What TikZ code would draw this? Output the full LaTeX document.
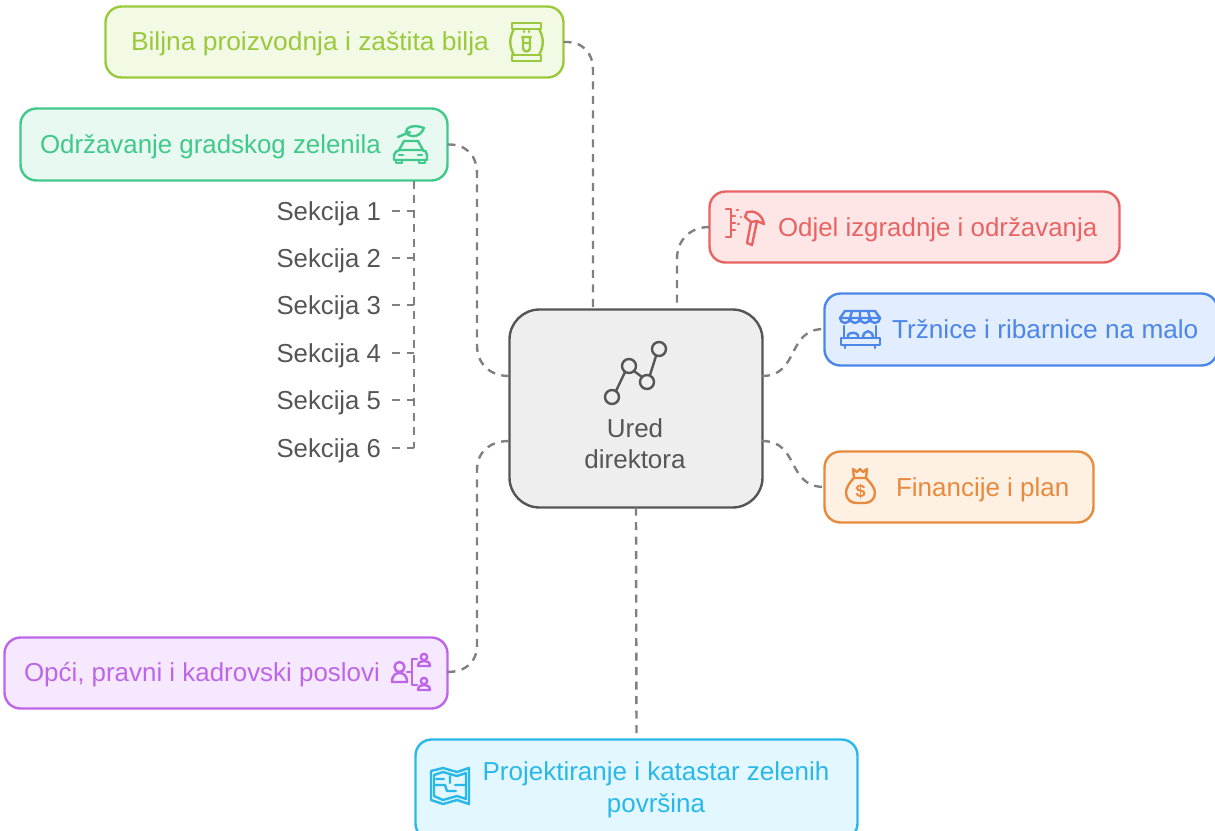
\documentclass[tikz,border=0pt]{standalone}
\usepackage{fontspec}
\setmainfont{Liberation Sans}
\definecolor{ink}{HTML}{555555}
\definecolor{dashc}{HTML}{808080}
\definecolor{limeS}{HTML}{9ACA3C}\definecolor{limeF}{HTML}{F2FAE6}
\definecolor{grnS}{HTML}{40C98A}\definecolor{grnF}{HTML}{E8F9F2}
\definecolor{redS}{HTML}{E86464}\definecolor{redF}{HTML}{FFE6E6}
\definecolor{bluS}{HTML}{4C86E8}\definecolor{bluF}{HTML}{E2EDFF}
\definecolor{oraS}{HTML}{E88A3C}\definecolor{oraF}{HTML}{FFF0E4}
\definecolor{purS}{HTML}{BD66E8}\definecolor{purF}{HTML}{F6E8FF}
\definecolor{cyaS}{HTML}{2AB8E8}\definecolor{cyaF}{HTML}{E2F7FF}
\tikzset{
 x=1pt,y=-1pt,
 boxn/.style={draw,line width=2.4pt,rounded corners=16pt,inner sep=0pt,outer sep=0pt,anchor=north west},
 lbl/.style={font=\fontsize{26}{30}\selectfont,anchor=base west,inner sep=0pt,outer sep=0pt},
 link/.style={draw=dashc,line width=2.4pt,dash pattern=on 8pt off 6.5pt},
 ico/.style={line width=2.4pt,line cap=round,line join=round},
}
\begin{document}
\begin{tikzpicture}
\useasboundingbox (0,0) rectangle (1215,830);
\clip (0,0) rectangle (1215,830);
% boxes
\node[boxn,draw=limeS,fill=limeF,minimum width=458pt,minimum height=71pt] (a) at (105.5,6.5) {};
\node[boxn,draw=grnS,fill=grnF,minimum width=427pt,minimum height=72pt] (b) at (20.5,108.5) {};
\node[boxn,draw=redS,fill=redF,minimum width=410pt,minimum height=71pt] (r) at (709.5,191.5) {};
\node[boxn,draw=bluS,fill=bluF,minimum width=393pt,minimum height=72pt] (m) at (824.5,293.5) {};
\node[boxn,draw=oraS,fill=oraF,minimum width=269pt,minimum height=71pt] (f) at (824.5,451.5) {};
\node[boxn,draw=purS,fill=purF,minimum width=443pt,minimum height=71pt] (p) at (4.5,637.5) {};
\node[boxn,draw=cyaS,fill=cyaF,minimum width=442pt,minimum height=100pt] (k) at (415.5,739.5) {};
\node[boxn,draw=ink,fill=black!6.5,rounded corners=30pt,minimum width=253pt,minimum height=198pt] (c) at (509.5,309.5) {};
% labels
\node[lbl,text=limeS] (ta) at (131,50) {\scalebox{1.015}[1]{Biljna proizvodnja i zaštita bilja}};
\node[lbl,text=grnS] (tb) at (40,153) {\scalebox{0.995}[1]{Održavanje gradskog zelenila}};
\node[lbl,text=redS] (tr) at (778,236) {\scalebox{0.995}[1]{Odjel izgradnje i održavanja}};
\node[lbl,text=bluS] (tm) at (892,338) {\scalebox{1.008}[1]{Tržnice i ribarnice na malo}};
\node[lbl,text=oraS] (tf) at (896,496) {Financije i plan};
\node[lbl,text=purS] (tp) at (24,681) {\scalebox{0.997}[1]{Opći, pravni i kadrovski poslovi}};
\node[lbl,text=cyaS,anchor=base,align=center] (tk1) at (656,780) {Projektiranje i katastar zelenih};
\node[lbl,text=cyaS,anchor=base,align=center] (tk2) at (656,812) {površina};
\node[lbl,text=ink,anchor=base] (tc1) at (635,437) {Ured};
\node[lbl,text=ink,anchor=base] (tc2) at (635,468) {direktora};
% sections
\foreach \n/\y in {1/220,2/267,3/314,4/362,5/409,6/457}
  \node[lbl,text=ink,anchor=base east] (s\n) at (381,\y) {\scalebox{0.99}[1]{Sekcija \n}};
% connectors
\coordinate (tr6) at (414,448);
\draw[link] (a.east) .. controls (582,41) and (593,52) .. (593,70) -- (593,309);
\draw[link] (b.east) .. controls (466,144) and (477,155) .. (477,174) -- (477,345) .. controls (477,364) and (490,376) .. (509,376);
\draw[link] (r.west) .. controls (690,227) and (677,240) .. (677,259) -- (677,309);
\draw[link] (762,376) .. controls (800,376) and (786,329) .. (824,329);
\draw[link] (762,441) .. controls (800,441) and (786,487) .. (f.west);
\draw[link] (509,441) .. controls (490,441) and (477,452) .. (477,470) -- (477,645) .. controls (477,662) and (466,672) .. (447,672);
\draw[link] (c.south) -- (k.north);
\draw[link] (b.south -| tr6) -- (tr6);
\foreach \n/\y in {1/211,2/258,3/305,4/353,5/400,6/448}
  \draw[link] (392,\y) -- (414,\y);
% centre icon
\begin{scope}[ico,draw=ink]
\draw (612,397) circle (7) (629,366) circle (7) (647,382) circle (7) (659,349) circle (7);
\draw (616,391) -- (625,372) (634,371) -- (642,377) (650,375) -- (656,356);
\end{scope}
% bag icon
\begin{scope}[ico,draw=limeS]
\draw (512,23) rectangle (541,29) (512,55) rectangle (541,61);
\draw (514,29) .. controls (509,38) and (509,46) .. (514,55) (539,29) .. controls (544,38) and (544,46) .. (539,55);
\draw (522,37) -- (531,37) (523,37) -- (523,48) arc[start angle=180,delta angle=-180,radius=3.5] -- (530,37) (524,43) -- (529,43) (524,31) -- (524,32) (529,31) -- (529,32);
\end{scope}
% car icon
\begin{scope}[ico,draw=grnS]
\draw (398,137) -- (410,132) (406,133) .. controls (405,127) and (414,124) .. (424,128) .. controls (421,136) and (412,139) .. (406,133);
\draw (399,150) -- (404,141) -- (418,141) -- (423,150);
\draw (394,160) -- (394,155) .. controls (395,152) and (397,150) .. (400,150) -- (422,150) .. controls (425,150) and (427,152) .. (427,155) -- (427,160) -- cycle;
\draw (396,160) -- (396,163) -- (402,163) -- (402,160) (419,160) -- (419,163) -- (425,163) -- (425,160);
\draw (399,155) -- (403,155) (418,155) -- (422,155);
\end{scope}
% hammer icon
\begin{scope}[ico,draw=redS]
\draw (726,209) -- (731,209) -- (731,237) -- (726,237);
\draw (731,216) -- (735,216) (731,223) -- (735,223) (731,230) -- (735,230) (737,210) -- (738,210) (738,224) -- (739,224) (741,217) -- (741,217);
\draw (747,212) .. controls (754,210) and (762,214) .. (764,224) -- (757,221) -- (751,222) -- (745,217) -- cycle;
\draw (751,222) -- (747,243) -- (752,245) -- (757,221);
\end{scope}
% market icon
\begin{scope}[ico,draw=bluS]
\draw (845,311) -- (875,311) -- (880,318) -- (840,318) -- cycle;
\draw (840,318) arc[start angle=180,delta angle=-180,radius=5] arc[start angle=180,delta angle=-180,radius=5] arc[start angle=180,delta angle=-180,radius=5] arc[start angle=180,delta angle=-180,radius=5];
\draw (852,311) -- (850,318) (860,311) -- (860,318) (868,311) -- (870,318);
\draw (844,326) -- (844,338) (876,326) -- (876,338);
\draw (841,338) rectangle (880,345);
\draw (845,345) -- (845,348) (875,345) -- (875,348);
\draw (848,338) -- (848,335) .. controls (850,332) and (856,332) .. (858,335) -- (858,338) (863,338) .. controls (863,329) and (873,329) .. (873,338);
\end{scope}
% money icon
\begin{scope}[ico,draw=oraS]
\draw (853,469) -- (857,472) -- (860,469) -- (863,472) -- (867,469) -- (866,478) -- (854,478) -- cycle;
\draw (854,478) .. controls (848,484) and (846,489) .. (846,493) .. controls (846,499) and (851,503) .. (856,503) -- (865,503) .. controls (870,503) and (875,499) .. (875,493) .. controls (875,489) and (872,484) .. (866,478);
\node[inner sep=0pt,text=oraS,font=\bfseries\fontsize{18}{18}\selectfont] (dollar) at (860.5,491) {\$};
\end{scope}
% people icon
\begin{scope}[ico,draw=purS]
\draw (399.5,667) circle (5);
\draw (392,682) .. controls (392,675) and (396,673) .. (399.5,673) .. controls (403,673) and (407,675) .. (407,682) -- cycle;
\draw (407,672) -- (412,672) (417,659) -- (412,659) -- (412,685) -- (417,685);
\draw (424,657) circle (3.2);
\draw (418,666) .. controls (418,662) and (421,661) .. (424,661) .. controls (427,661) and (430,662) .. (430,666) -- cycle;
\draw (424,681) circle (3.2);
\draw (418,690) .. controls (418,686) and (421,685) .. (424,685) .. controls (427,685) and (430,686) .. (430,690) -- cycle;
\end{scope}
% map icon
\begin{scope}[ico,draw=cyaS]
\draw (431,771) -- (443,768) -- (457,772) -- (469,768) -- (469,804) -- (457,800) -- (443,804) -- (431,800) -- cycle;
\draw (434,775) -- (443,772) -- (457,776) -- (466,773) -- (466,799) -- (457,796) -- (443,800) -- (434,796) -- cycle;
\draw (434,785) -- (445,785) -- (447,791) -- (456,791) (436,779) -- (444,779) (455,785) -- (466,785) (450,776) -- (450,783);
\end{scope}
\end{tikzpicture}
\end{document}
